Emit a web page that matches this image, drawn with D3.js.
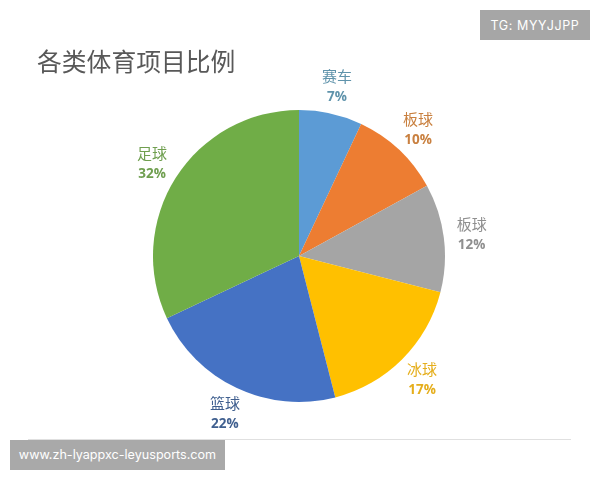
<!DOCTYPE html>
<html><head><meta charset="utf-8">
<script src="https://cdn.jsdelivr.net/npm/d3@7"></script>
<style>html,body{margin:0;padding:0;background:#fff}svg{display:block}</style>
</head><body><svg id="c" width="600" height="480"></svg>
<script>
const title = "各类体育项目比例";
const categories = ["赛车","板球","板球","冰球","篮球","足球"];
const values = [7,10,12,17,22,32];
const sliceColors = ["#5B9BD5","#ED7D31","#A5A5A5","#FFC000","#4472C4","#70AD47"];
const labelColors = ["#5f93ab","#c9803f","#8f8f8f","#e5ae1c","#3f5f8f","#6f9f50"];
const topMark = "TG: MYYJJPP";
const bottomMark = "www.zh-lyappxc-leyusports.com";

const cjk = "'Noto Sans CJK SC','Noto Sans',sans-serif";
const svg = d3.select("#c");
const defs = svg.append("defs");
defs.append("filter").attr("id","soft").append("feGaussianBlur").attr("stdDeviation",0.45);

const cx = 299, cy = 256, R = 146, labelR = 174;
const pie = d3.pie().value(d=>d).sort(null);
const arcs = pie(values);
const arc = d3.arc().innerRadius(0).outerRadius(R);
const labelArc = d3.arc().innerRadius(labelR).outerRadius(labelR);

svg.append("text").attr("x",37).attr("y",71).attr("font-family",cjk)
  .attr("font-size",24.8).attr("fill","#595959").attr("filter","url(#soft)").text(title);

const g = svg.append("g").attr("transform",`translate(${cx},${cy})`);
g.append("g").attr("filter","url(#soft)").selectAll("path").data(arcs).join("path")
  .attr("d",arc).attr("fill",(d,i)=>sliceColors[i]);

const lab = g.append("g").attr("filter","url(#soft)").selectAll("g").data(arcs).join("g")
  .attr("transform",d=>`translate(${labelArc.centroid(d)})`)
  .attr("text-anchor","middle").attr("font-family",cjk)
  .attr("fill",(d,i)=>labelColors[i]);
lab.append("text").attr("y",-4).attr("font-size",15).text((d,i)=>categories[i]);
lab.append("text").attr("y",15).attr("font-size",13.5).attr("font-weight",700)
  .attr("font-family","'Open Sans',sans-serif").text(d=>d.value+"%");

svg.append("line").attr("x1",28).attr("x2",571).attr("y1",439.5).attr("y2",439.5)
  .attr("stroke","#e0e0e0").attr("stroke-width",1);

svg.append("rect").attr("x",480).attr("y",10).attr("width",110).attr("height",30).attr("fill","#a6a6a6");
svg.append("text").attr("x",535).attr("y",30).attr("text-anchor","middle")
  .attr("font-family","Inter,sans-serif").attr("font-size",12.5).attr("letter-spacing",0.6).attr("fill","#fff").text(topMark);
svg.append("rect").attr("x",10).attr("y",440).attr("width",215).attr("height",30).attr("fill","#a9a9a9");
svg.append("text").attr("x",117.5).attr("y",459).attr("text-anchor","middle")
  .attr("font-family","Inter,sans-serif").attr("font-size",12.6).attr("fill","#fff").text(bottomMark);
</script></body></html>
